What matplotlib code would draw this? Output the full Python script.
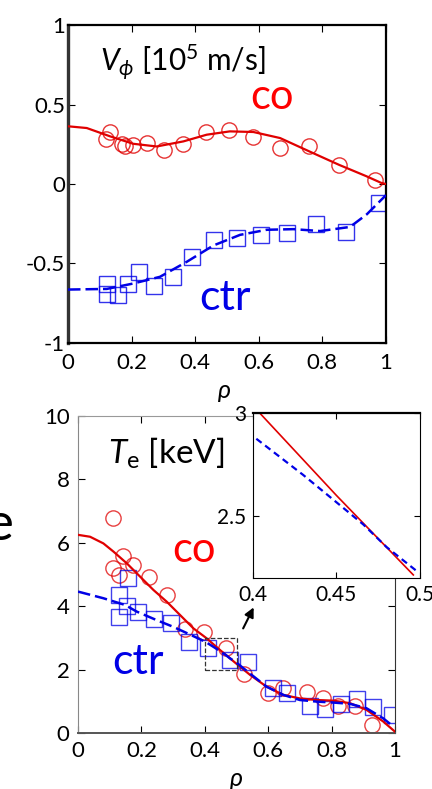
import numpy as np
import matplotlib.pyplot as plt
from matplotlib.patches import Rectangle

plt.rcParams['font.family'] = ['Lato', 'DejaVu Sans']
plt.rcParams['mathtext.fontset'] = 'custom'
plt.rcParams['mathtext.rm'] = 'Lato'
plt.rcParams['mathtext.it'] = 'Lato:italic'

# --- top panel: toroidal rotation ---
v_co_x = [0.119, 0.132, 0.169, 0.179, 0.205, 0.247, 0.303, 0.363, 0.433, 0.507, 0.583, 0.667, 0.759, 0.853, 0.967]
v_co_y = [0.28, 0.325, 0.25, 0.236, 0.247, 0.257, 0.215, 0.251, 0.325, 0.337, 0.295, 0.226, 0.24, 0.12, 0.025]
v_co_fit_x = [0.0, 0.059, 0.132, 0.205, 0.279, 0.363, 0.436, 0.509, 0.583, 0.667, 0.76, 0.853, 0.937, 0.985, 1.0]
v_co_fit_y = [0.363, 0.352, 0.30, 0.253, 0.236, 0.268, 0.31, 0.331, 0.327, 0.289, 0.204, 0.12, 0.05, 0.007, 0.0]

v_ctr_x = [0.122, 0.124, 0.158, 0.188, 0.224, 0.270, 0.329, 0.389, 0.458, 0.532, 0.607, 0.690, 0.779, 0.873, 0.978]
v_ctr_y = [-0.689, -0.63, -0.70, -0.63, -0.553, -0.643, -0.584, -0.462, -0.353, -0.342, -0.321, -0.307, -0.254, -0.30, -0.118]
v_ctr_fit_x = [0.0, 0.122, 0.205, 0.289, 0.373, 0.457, 0.541, 0.625, 0.709, 0.793, 0.887, 0.94, 1.0]
v_ctr_fit_y = [-0.664, -0.66, -0.626, -0.584, -0.49, -0.387, -0.32, -0.288, -0.284, -0.296, -0.27, -0.19, -0.07]

# --- bottom panel: electron temperature ---
te_co_x = [0.111, 0.141, 0.109, 0.174, 0.130, 0.224, 0.28, 0.338, 0.397, 0.467, 0.525, 0.600, 0.646, 0.721, 0.772, 0.821, 0.874, 0.926]
te_co_y = [6.79, 5.59, 5.20, 5.30, 4.98, 4.93, 4.35, 3.27, 3.18, 2.67, 1.86, 1.25, 1.41, 1.30, 1.09, 0.85, 0.85, 0.25]
te_co_fit_x = [0.0, 0.038, 0.080, 0.112, 0.154, 0.196, 0.238, 0.280, 0.322, 0.364, 0.404, 0.45, 0.496,
               0.543, 0.595, 0.648, 0.70, 0.753, 0.805, 0.858, 0.91, 0.963, 1.0]
te_co_fit_y = [6.25, 6.19, 5.98, 5.72, 5.35, 4.93, 4.51, 4.14, 3.72, 3.30, 3.0, 2.60, 2.215,
               1.83, 1.46, 1.20, 1.09, 1.04, 1.02, 0.94, 0.73, 0.36, 0.04]

te_ctr_x = [0.157, 0.130, 0.130, 0.154, 0.190, 0.240, 0.292, 0.351, 0.411, 0.479, 0.537, 0.614, 0.658, 0.732, 0.779, 0.829, 0.879, 0.932, 0.990]
te_ctr_y = [4.90, 4.35, 3.67, 4.0, 3.81, 3.60, 3.48, 2.88, 2.67, 2.30, 2.25, 1.41, 1.25, 0.85, 0.75, 0.91, 1.06, 0.83, 0.57]
te_ctr_fit_x = [0.0, 0.08, 0.148, 0.185, 0.248, 0.30, 0.35, 0.402, 0.43, 0.45, 0.466, 0.48, 0.498,
                0.543, 0.595, 0.648, 0.70, 0.753, 0.805, 0.858, 0.91, 0.963, 0.995]
te_ctr_fit_y = [4.46, 4.25, 4.04, 3.83, 3.56, 3.35, 3.12, 2.875, 2.70, 2.567, 2.46, 2.35, 2.234,
                1.87, 1.46, 1.20, 1.04, 0.99, 0.96, 0.92, 0.78, 0.46, 0.20]

# --- inset zoom 0.4-0.5 ---
ins_co_x = [0.404, 0.450, 0.496]
ins_co_y = [3.0, 2.60, 2.215]
ins_ctr_x = [0.402, 0.430, 0.45, 0.466, 0.48, 0.498]
ins_ctr_y = [2.875, 2.70, 2.567, 2.46, 2.35, 2.234]

red = '#e00000'
blue = '#0000e6'

fig = plt.figure(figsize=(4.32, 7.89), dpi=100)

# top axes
ax1 = fig.add_axes([0.1574, 0.5653, 0.7361, 0.4030])
ax1.plot(v_co_fit_x, v_co_fit_y, color=red, lw=1.6, zorder=3)
ax1.plot(v_co_x, v_co_y, 'o', ms=11, mfc='none', mec=red, mew=1.0, alpha=0.8)
ax1.plot(v_ctr_fit_x, v_ctr_fit_y, '--', color=blue, lw=1.8, dashes=(5, 2), zorder=3)
ax1.plot(v_ctr_x, v_ctr_y, 's', ms=11, mfc='none', mec=blue, mew=1.0, alpha=0.8)
ax1.set_xlim(0, 1)
ax1.set_ylim(-1, 1)
ax1.set_xticks([0, 0.2, 0.4, 0.6, 0.8, 1])
ax1.set_xticklabels(['0', '0.2', '0.4', '0.6', '0.8', '1'])
ax1.set_yticks([-1, -0.5, 0, 0.5, 1])
ax1.set_yticklabels(['-1', '-0.5', '0', '0.5', '1'])
ax1.tick_params(direction='in', top=True, right=True, length=5, labelsize=16)
ax1.tick_params(axis='y', pad=2)
ax1.tick_params(axis='x', pad=7)
for s in ax1.spines.values():
    s.set_linewidth(1.6)
ax1.spines['left'].set_linewidth(2.4)
ax1.spines['left'].set_color('#333333')
ax1.text(0.1, 0.77, r'$V_\phi$ [10$^5$ m/s]', fontsize=21.5, va='center', ha='left')
ax1.text(0.64, 0.55, 'co', color='#ff0000', fontsize=30, ha='center', va='center')
ax1.text(0.494, -0.715, 'ctr', color=blue, fontsize=31, ha='center', va='center')

fig.text(225 / 432, 1 - 390 / 789, 'ρ', fontsize=18, style='italic', ha='center', va='center')

# bottom axes
ax2 = fig.add_axes([0.1806, 0.0710, 0.7338, 0.4018])
ax2.plot(te_co_fit_x, te_co_fit_y, color=red, lw=1.6, zorder=3)
ax2.plot(te_co_x, te_co_y, 'o', ms=11, mfc='none', mec=red, mew=1.0, alpha=0.75)
ax2.plot(te_ctr_fit_x, te_ctr_fit_y, '--', color=blue, lw=1.8, dashes=(5, 2), zorder=3)
ax2.plot(te_ctr_x, te_ctr_y, 's', ms=11, mfc='none', mec=blue, mew=1.0, alpha=0.75)
ax2.set_xlim(0, 1)
ax2.set_ylim(0, 10)
ax2.set_xticks([0, 0.2, 0.4, 0.6, 0.8, 1])
ax2.set_xticklabels(['0', '0.2', '0.4', '0.6', '0.8', '1'])
ax2.set_yticks([0, 2, 4, 6, 8, 10])
ax2.tick_params(direction='in', top=True, right=True, length=5, labelsize=16, pad=6)
ax2.spines['left'].set_color('#888888')
ax2.spines['top'].set_color('#999999')
ax2.spines['bottom'].set_color('#555555')
ax2.spines['bottom'].set_linewidth(1.4)
ax2.spines['right'].set_color('#333333')
ax2.text(0.095, 8.83, r'$T_\mathrm{e}$ [keV]', fontsize=24, va='center', ha='left')
ax2.text(0.366, 5.77, 'co', color='#ff0000', fontsize=30, ha='center', va='center')
ax2.text(0.19, 2.24, 'ctr', color=blue, fontsize=31, ha='center', va='center')
ax2.add_patch(Rectangle((0.4, 2), 0.1, 1, fill=False, ls='--', lw=0.9, ec='#333333', zorder=4))
ax2.annotate('', xy=(0.558, 4.04), xytext=(0.517, 3.22),
             arrowprops=dict(arrowstyle='-|>', color='black', lw=1.5, mutation_scale=14))

fig.text(237 / 432, 1 - 778 / 789, 'ρ', fontsize=18, style='italic', ha='center', va='center')

# inset
ax3 = fig.add_axes([0.5856, 0.2674, 0.3866, 0.2092])
ax3.plot(ins_co_x, ins_co_y, color=red, lw=1.2)
ax3.plot(ins_ctr_x, ins_ctr_y, '--', color=blue, lw=1.6, dashes=(3, 2))
ax3.set_xlim(0.4, 0.5)
ax3.set_ylim(2.2, 3.0)
ax3.set_xticks([0.4, 0.45, 0.5])
ax3.set_xticklabels(['0.4', '0.45', '0.5'])
ax3.set_yticks([2.5, 3])
ax3.set_yticklabels(['2.5', '3'])
ax3.tick_params(direction='in', top=True, right=True, length=4, labelsize=15, pad=5)
ax3.spines['top'].set_linewidth(1.6)
for s in ax3.spines.values():
    s.set_color('black')

# clipped label from neighbouring panel
fig.text(14 / 432, 1 - 525 / 789, 'e', fontsize=38, ha='right', va='center')

plt.savefig('out.png', dpi=100)
